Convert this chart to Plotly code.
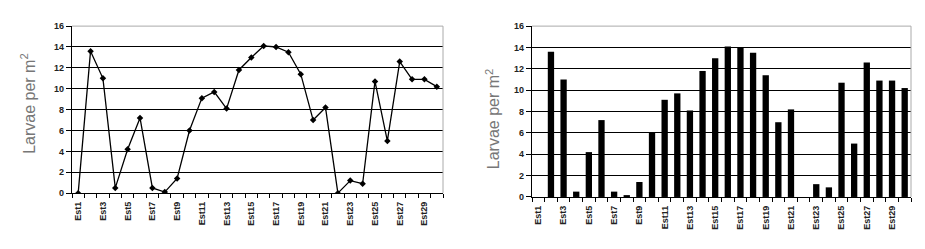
import plotly.graph_objects as go

stations = [f"Est{i}" for i in range(1, 31)]
larvae = [0, 13.6, 11.0, 0.5, 4.2, 7.2, 0.5, 0.1, 1.4, 6.0,
          9.1, 9.7, 8.1, 11.8, 13.0, 14.1, 14.0, 13.5, 11.4, 7.0,
          8.2, 0.0, 1.2, 0.9, 10.7, 5.0, 12.6, 10.9, 10.9, 10.2]
y_ticks = list(range(0, 17, 2))

pos = list(range(1, len(stations) + 1))
label_pos = pos[::2]
label_txt = stations[::2]
boundaries = [p - 0.5 for p in pos] + [pos[-1] + 0.5]

FONT = "Arial, Liberation Sans, sans-serif"

fig = go.Figure()
fig.add_trace(go.Scatter(x=pos, y=larvae, mode="lines+markers",
                         line=dict(color="black", width=1.3),
                         marker=dict(symbol="diamond", size=5, color="black"),
                         xaxis="x", yaxis="y", showlegend=False))
fig.add_trace(go.Bar(x=pos, y=larvae, marker=dict(color="black", line=dict(width=0)),
                     width=0.5, xaxis="x2", yaxis="y2", showlegend=False))

W, H = 925, 249
L1, R1, T1, B1 = 72, 443, 22, 196
L2, R2, T2, B2 = 532, 911, 22, 200

def xax(l, r, anchor):
    return dict(domain=[l / W, r / W], range=[0.5, len(pos) + 0.5], anchor=anchor,
                tickmode="array", tickvals=label_pos, ticktext=label_txt,
                tickangle=-90, ticks="", showgrid=False, zeroline=False,
                showline=True, linecolor="black", linewidth=1.2,
                tickfont=dict(family=FONT, size=9, color="#222", weight="bold"),
                minor=dict(tickvals=boundaries, ticks="outside", ticklen=4,
                           tickcolor="black", showgrid=False),
                ticklabelstandoff=4)

def yax(t, b, anchor):
    return dict(domain=[(H - b) / H, (H - t) / H], range=[0, 16], anchor=anchor,
                tickmode="array", tickvals=y_ticks, ticks="outside", ticklen=5,
                tickcolor="black", showgrid=True, gridcolor="black", gridwidth=1,
                zeroline=False, showline=True, linecolor="black", linewidth=1.2,
                tickfont=dict(family=FONT, size=9, color="#222", weight="bold"))

fig.update_layout(
    width=W, height=H, margin=dict(l=0, r=0, t=0, b=0),
    paper_bgcolor="white", plot_bgcolor="white",
    xaxis=xax(L1, R1, "y"), yaxis=yax(T1, B1, "x"),
    xaxis2=xax(L2, R2, "y2"), yaxis2=yax(T2, B2, "x2"),
    bargap=0.5,
)

for xr, yr in (("x domain", "y domain"), ("x2 domain", "y2 domain")):
    fig.add_shape(type="line", xref=xr, yref=yr, x0=0, x1=1, y0=1, y1=1,
                  line=dict(color="#aaaaaa", width=1), layer="above")
    fig.add_shape(type="line", xref=xr, yref=yr, x0=1, x1=1, y0=0, y1=1,
                  line=dict(color="#aaaaaa", width=1), layer="above")

title = "Larvae per m<sup>2</sup>"
for xc, yc in ((28, 103), (493, 119)):
    fig.add_annotation(text=title, xref="paper", yref="paper",
                       x=xc / W, y=(H - yc) / H, showarrow=False, textangle=-90,
                       font=dict(family=FONT, size=16, color="#777777"),
                       xanchor="center", yanchor="middle")

fig.write_html("out.html")
